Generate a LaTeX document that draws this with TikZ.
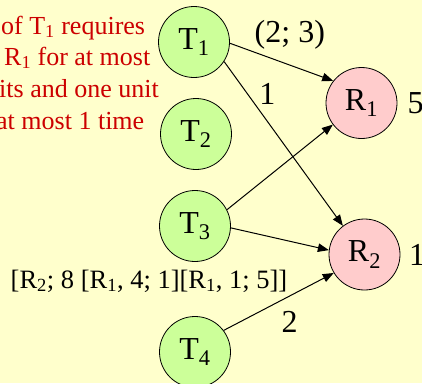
\documentclass[tikz,border=0pt]{standalone}
\usepackage{fontspec}
\setmainfont{Liberation Serif}
\usetikzlibrary{arrows.meta, positioning}
\definecolor{paleyellow}{RGB}{255,255,204}
\definecolor{taskgreen}{RGB}{204,255,153}
\definecolor{respink}{RGB}{255,204,204}
\definecolor{notered}{RGB}{204,0,0}
\tikzset{
  task/.style={
    circle, draw=black, line width=0.8pt, fill=taskgreen,
    minimum size=71pt, inner sep=0pt,
    font=\fontsize{32}{36}\selectfont
  },
  resource/.style={
    circle, draw=black, line width=0.8pt, fill=respink,
    minimum size=71pt, inner sep=0pt,
    font=\fontsize{32}{36}\selectfont
  },
  arrow/.style={-{Triangle[length=11pt,width=8.5pt]}, line width=1pt, draw=black},
  note/.style={anchor=base west, inner sep=0pt, text=notered,
    font=\fontsize{26}{30}\selectfont},
  elabel/.style={inner sep=1pt, font=\fontsize{32}{36}\selectfont}
}

\begin{document}
\begin{tikzpicture}[x=1pt, y=-1pt]
  \useasboundingbox (0,0) rectangle (422,383);
  \clip (0,0) rectangle (422,383);
  \fill[paleyellow] (0,0) rectangle (422,383);

  % red remark, left edge cut off
  \node[note] (note1) at (1,34) {of T\textsubscript{1} requires};
  \node[note] (note2) at (4,65) {R\textsubscript{1} for at most};
  \node[note] (note3) at (-1,97) {its and one unit};
  \node[note] (note4) at (-4,129) {at most 1 time};

  \node[task] (T1) at (194,42) {T\textsubscript{1}};
  \node[task] (T2) at (196,134) {T\textsubscript{2}};
  \node[task] (T3) at (195,226) {T\textsubscript{3}};
  \node[task] (T4) at (195,352) {T\textsubscript{4}};
  \node[resource] (R1) at (361.5,103) {R\textsubscript{1}};
  \node[resource] (R2) at (364.5,254.5) {R\textsubscript{2}};

  \node[elabel, right=9pt of R1] (capR1) {5};
  \node[elabel, right=7.5pt of R2] (capR2) {1};
  \node[anchor=base, inner sep=1pt, font=\fontsize{26.5}{30}\selectfont]
    (sched) at (149,288) {[R\textsubscript{2}; 8 [R\textsubscript{1}, 4; 1][R\textsubscript{1}, 1; 5]]};

  \draw[arrow] (T1.358) -- node[elabel, above=14pt, pos=0.58]{(2; 3)} (R1.142);
  \draw[arrow] (T1.-33) -- node[elabel, right=10pt, pos=0.2]{1} (R2.127);
  \draw[arrow] (T3.27) -- (R1.217);
  \draw[arrow] (T3.357) -- (R2.173);
  \draw[arrow] (T4.37) -- node[elabel, below=14pt, pos=0.6]{2} (R2.211);
\end{tikzpicture}
\end{document}
